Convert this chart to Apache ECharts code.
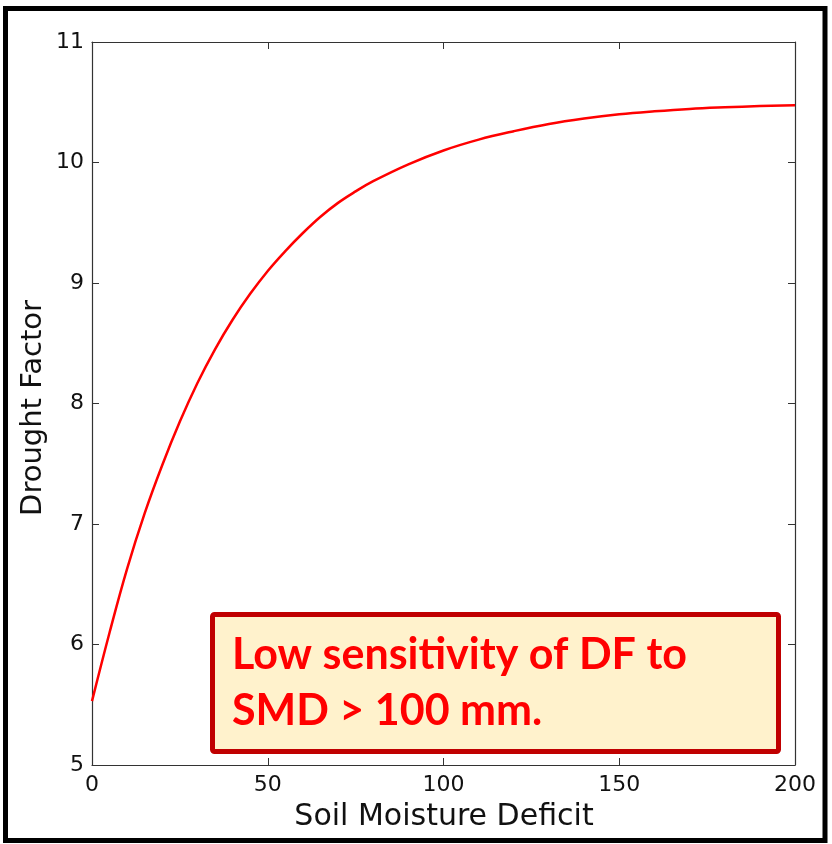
<!DOCTYPE html>
<html>
<head>
<meta charset="utf-8">
<script src="https://cdn.jsdelivr.net/npm/echarts@6/dist/echarts.min.js"></script>
<style>
html,body{margin:0;padding:0;background:#fff;}
#c{width:832px;height:844px;}
</style>
</head>
<body>
<div id="c"></div>
<script>
// Data
const smd = [0, 5, 10, 15, 20, 25, 30, 35, 40, 45, 50, 55, 60, 65, 70, 75, 80, 90, 100, 110, 120, 130, 140, 150, 160, 170, 180, 190, 200];
const droughtFactor = [5.53, 6.10, 6.63, 7.09, 7.49, 7.85, 8.17, 8.45, 8.695, 8.91, 9.10, 9.265, 9.415, 9.55, 9.665, 9.76, 9.845, 9.985, 10.10, 10.19, 10.26, 10.32, 10.365, 10.40, 10.425, 10.445, 10.458, 10.468, 10.475];
const xTicks = [0, 50, 100, 150, 200];
const yTicks = [5, 6, 7, 8, 9, 10, 11];
const xTitle = 'Soil Moisture Deficit';
const yTitle = 'Drought Factor';
const noteLines = ['Low sensitivity of DF to', 'SMD > 100 mm.'];

const chart = echarts.init(document.getElementById('c'), null, {renderer: 'canvas'});
const axisCol = '#333';
const tickFont = {fontFamily: 'DejaVu Sans', fontSize: 22, color: '#111'};

const baseX = {
  type: 'value', min: xTicks[0], max: xTicks[xTicks.length - 1], interval: 50,
  splitLine: {show: false},
  axisLine: {show: true, onZero: false, lineStyle: {color: axisCol, width: 1.2}},
  axisTick: {show: true, inside: true, length: 7, lineStyle: {color: axisCol, width: 1}}
};
const baseY = {
  type: 'value', min: yTicks[0], max: yTicks[yTicks.length - 1], interval: 1,
  splitLine: {show: false},
  axisLine: {show: true, onZero: false, lineStyle: {color: axisCol, width: 1.2}},
  axisTick: {show: true, inside: true, length: 7, lineStyle: {color: axisCol, width: 1}}
};

chart.setOption({
  animation: false,
  backgroundColor: '#ffffff',
  grid: {left: 92, top: 42, right: 37, bottom: 79, containLabel: false},
  xAxis: [
    Object.assign({}, baseX, {position: 'bottom',
      axisLabel: Object.assign({margin: 9}, tickFont)}),
    Object.assign({}, baseX, {position: 'top', axisLabel: {show: false}})
  ],
  yAxis: [
    Object.assign({}, baseY, {position: 'left',
      axisLabel: Object.assign({margin: 8}, tickFont)}),
    Object.assign({}, baseY, {position: 'right', axisLabel: {show: false}})
  ],
  series: [{
    type: 'line',
    data: smd.map((x, i) => [x, droughtFactor[i]]),
    smooth: 0.4,
    showSymbol: false,
    lineStyle: {color: '#ff0000', width: 2.5},
    itemStyle: {color: '#ff0000'}
  }],
  graphic: [
    {type: 'text', x: 444, y: 817,
      style: {text: xTitle, fontFamily: 'DejaVu Sans', fontSize: 30, fill: '#111', align: 'center', verticalAlign: 'middle'}},
    {type: 'text', x: 33, y: 408, rotation: Math.PI / 2,
      style: {text: yTitle, fontFamily: 'DejaVu Sans', fontSize: 29, fill: '#111', align: 'center', verticalAlign: 'middle'}},
    {type: 'rect', shape: {x: 212.5, y: 614.5, width: 566, height: 137, r: 2},
      style: {fill: '#fff2cc', stroke: '#c00000', lineWidth: 5}},
    {type: 'text', x: 232, y: 634,
      style: {text: noteLines[0], fontFamily: 'Lato', fontWeight: 'bold', fontSize: 43, fill: '#ff0000', verticalAlign: 'top'}},
    {type: 'text', x: 232, y: 690,
      style: {text: noteLines[1], fontFamily: 'Lato', fontWeight: 'bold', fontSize: 43, fill: '#ff0000', verticalAlign: 'top'}},
    {type: 'rect', shape: {x: 5.5, y: 8.5, width: 819.5, height: 832}, silent: true,
      style: {fill: 'none', stroke: '#000', lineWidth: 5}}
  ]
});
</script>
</body>
</html>
